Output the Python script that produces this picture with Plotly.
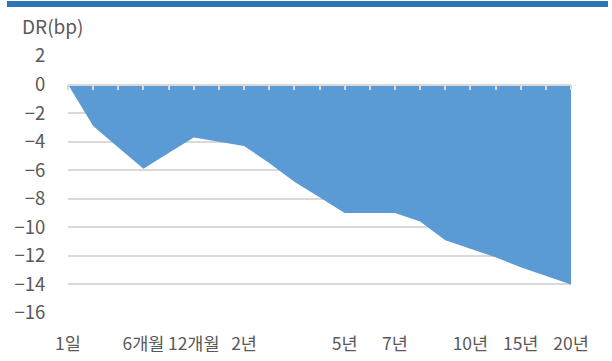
import plotly.graph_objects as go

# Tenor labels (blank = unlabeled tenor point) and DR change in bp
tenor_labels = ["1일", "", "", "6개월", "", "12개월", "", "2년", "", "", "",
                "5년", "", "7년", "", "", "10년", "", "15년", "", "20년"]
dr_bp = [0.0, -2.9, -4.4, -5.9, -4.8, -3.7, -4.0, -4.3, -5.5, -6.8, -7.9,
         -9.0, -9.0, -9.0, -9.6, -10.9, -11.5, -12.1, -12.8, -13.4, -14.0]
y_ticks = [2, 0, -2, -4, -6, -8, -10, -12, -14, -16]

W, H = 612, 361
ML, MR, MT, MB = 68, 41, 56, 48
PW, PH = W - ML - MR, H - MT - MB

FONT = "Noto Sans CJK KR, Noto Sans, sans-serif"
TXT = "#595959"
GRID = "#D9D9D9"

x_idx = list(range(len(dr_bp)))
label_idx = [i for i, t in enumerate(tenor_labels) if t]
label_txt = [tenor_labels[i] for i in label_idx]
y_min, y_max = min(y_ticks), max(y_ticks)


def px_x(p):
    return (p - ML) / PW


def px_y(p):
    return (H - MB - p) / PH


fig = go.Figure()
fig.add_trace(go.Scatter(
    x=x_idx, y=dr_bp, mode="lines", fill="tozeroy",
    fillcolor="#5B9BD5", line=dict(width=0, color="#5B9BD5"),
    showlegend=False, hoverinfo="skip",
))
# helper trace so the zero-crossing category axis is drawn
fig.add_trace(go.Scatter(
    x=x_idx, y=[None] * len(x_idx), xaxis="x2", mode="lines",
    showlegend=False, hoverinfo="skip",
))

fig.update_layout(
    width=W, height=H,
    margin=dict(l=ML, r=MR, t=MT, b=MB, pad=0, autoexpand=False),
    paper_bgcolor="white", plot_bgcolor="white",
    font=dict(family=FONT, size=18, color=TXT),
    xaxis=dict(
        range=[0, len(dr_bp) - 1], tickmode="array",
        tickvals=label_idx, ticktext=label_txt, automargin=False,
        showgrid=False, zeroline=False, showline=False,
        ticks="outside", ticklen=15, tickcolor="rgba(0,0,0,0)",
        tickfont=dict(family=FONT, size=17.5, color=TXT),
    ),
    xaxis2=dict(
        overlaying="x", anchor="free", automargin=False,
        position=(0 - y_min) / (y_max - y_min),
        range=[0, len(dr_bp) - 1], tickmode="array", tickvals=x_idx,
        showticklabels=False, showgrid=False, zeroline=False,
        showline=True, linecolor=GRID, linewidth=1.5,
        ticks="outside", ticklen=5, tickcolor=GRID, tickwidth=1.5,
        layer="above traces",
    ),
    yaxis=dict(
        range=[y_min, y_max], tickmode="array", tickvals=y_ticks,
        automargin=False,
        showgrid=True, gridcolor=GRID, gridwidth=1.5,
        zeroline=False, showline=False, ticks="outside", ticklen=18,
        tickcolor="rgba(0,0,0,0)",
        tickfont=dict(family=FONT, size=18.5, color=TXT),
    ),
    shapes=[dict(
        type="rect", xref="paper", yref="paper",
        x0=px_x(7), x1=px_x(608), y0=px_y(7), y1=px_y(1),
        fillcolor="#2E75B6", line=dict(width=0), layer="above",
    )],
    annotations=[dict(
        text="DR(bp)", xref="paper", yref="paper",
        x=px_x(20), y=px_y(26), xanchor="left", yanchor="middle",
        showarrow=False, font=dict(family=FONT, size=19, color=TXT),
    )],
)

fig.write_html("out.html")
